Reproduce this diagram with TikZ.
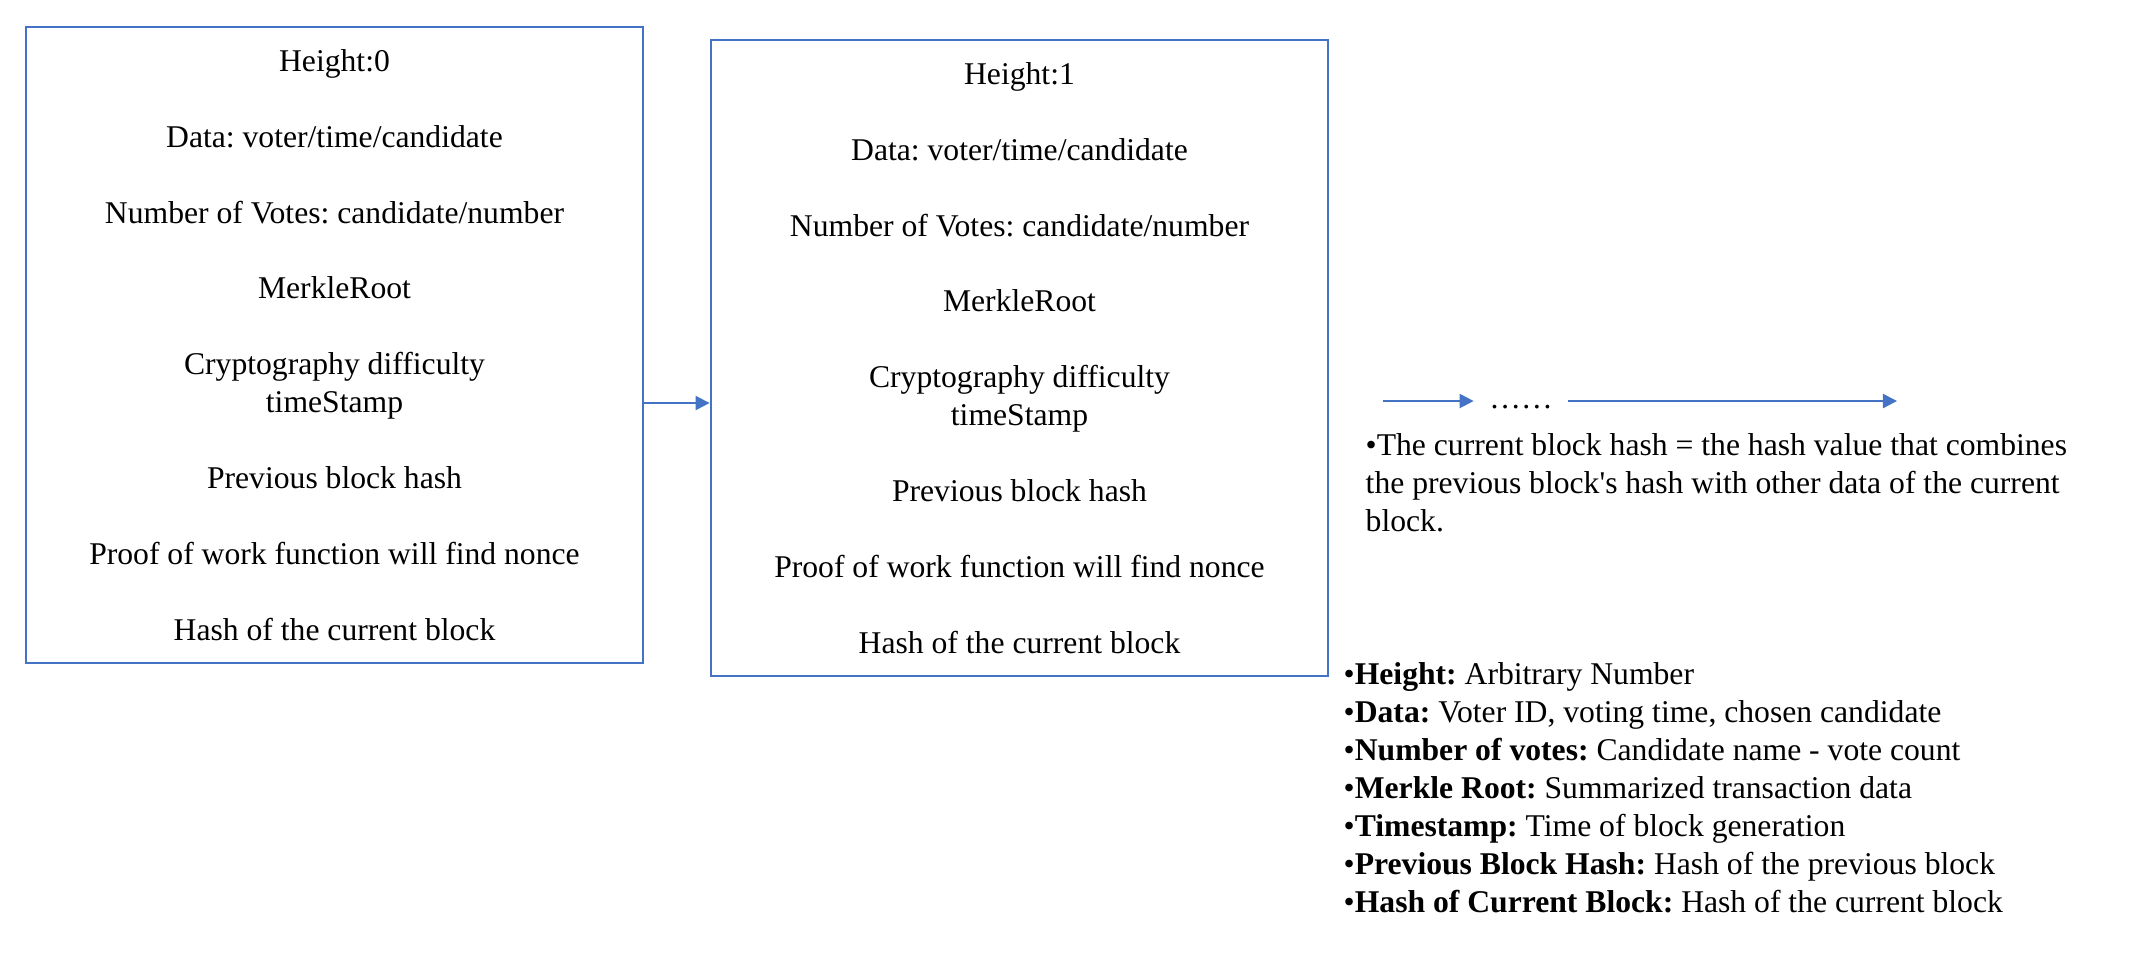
\documentclass[tikz,border=0pt]{standalone}
\usepackage{fontspec}
\setmainfont{Liberation Serif}
\usetikzlibrary{arrows.meta, positioning}
\definecolor{chainblue}{HTML}{4472C4}
\frenchspacing
\newcommand{\gapsk}{10.75pt}
\newcommand{\blockbody}[1]{Height:#1\\[\gapsk]
  Data: voter/time/candidate\\[\gapsk]
  Number of Votes: candidate/number\\[\gapsk]
  MerkleRoot\\[\gapsk]
  Cryptography difficulty\\
  timeStamp\\[\gapsk]
  Previous block hash\\[\gapsk]
  Proof of work function will find nonce\\[\gapsk]
  Hash of the current block}

\begin{document}
\begin{tikzpicture}[
  x=0.01cm, y=-0.01cm,
  >={Triangle[length=4pt, width=4pt]},
  every node/.style={font=\fontsize{9}{10.8}\selectfont},
  block/.style={draw=chainblue, line width=0.7pt, minimum width=6.17cm, minimum height=6.36cm, align=center, inner sep=0pt},
  link/.style={->, draw=chainblue, line width=0.6pt},
  note/.style={align=left, inner sep=0pt, anchor=north west}
]
  \useasboundingbox (0,0) rectangle (2140,959);
  % the two blocks of the chain
  \node[block] (blk0) at (334.5,345) {\blockbody{0}};
  \node[block] (blk1) at (1019.5,358) {\blockbody{1}};
  \coordinate (lvl) at (0,403);
  \draw[link] (blk0.east |- lvl) -- (blk1.west |- lvl);
  % chain continues
  \coordinate (chainL) at (1383,401);
  \coordinate (chainR) at (1897,401);
  \node[inner xsep=0.15cm, inner ysep=0pt] (dots) at (1521,407) {……};
  \draw[link] (chainL) -- (chainL -| dots.west);
  \draw[link] (chainL -| dots.east) -- (chainR);
  % notes
  \node[note] (hashnote) at (1365,433) {\textbullet The current block hash = the hash value that combines\\
    the previous block\textquotesingle s hash with other data of the current\\
    block.};
  \node[note] (legend) at (1343,662) {\textbullet\textbf{Height:} Arbitrary Number\\
    \textbullet\textbf{Data:} Voter ID, voting time, chosen candidate\\
    \textbullet\textbf{Number of votes:} Candidate name - vote count\\
    \textbullet\textbf{Merkle Root:} Summarized transaction data\\
    \textbullet\textbf{Timestamp:} Time of block generation\\
    \textbullet\textbf{Previous Block Hash:} Hash of the previous block\\
    \textbullet\textbf{Hash of Current Block:} Hash of the current block};
\end{tikzpicture}
\end{document}
